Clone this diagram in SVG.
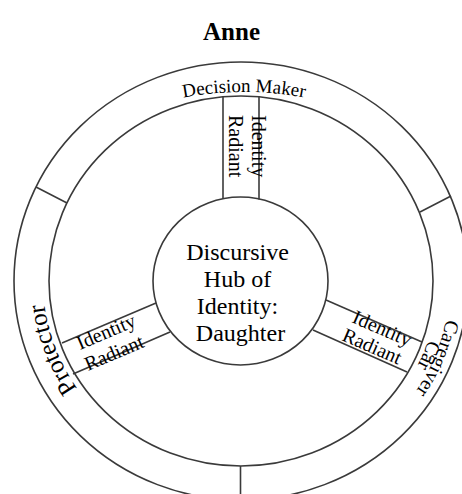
<svg xmlns="http://www.w3.org/2000/svg" width="462" height="494" viewBox="0 0 462 494">
  <style>
    .ln { fill: none; stroke: #3a3a3a; stroke-width: 1.6; }
    .tx { font-family: "Liberation Serif", "Times New Roman", serif; fill: #000; }
    .title { font-size: 25px; font-weight: bold; }
    .ring { font-size: 19px; }
    .rad { font-size: 20px; }
    .hub { font-size: 24px; }
  </style>
  <defs>
    <!-- baselines for the curved ring labels -->
    <path id="arc-top" d="M144,107.5 A330,330 0 0 1 344,107.5"/>
    <path id="arc-left" d="M113.7,427.3 A198,191 0 0 1 45.4,251.1"/>
    <path id="arc-right-outer" d="M446.2,319.4 A209,201 0 0 1 345.5,455.1"/>
    <path id="arc-right-inner" d="M428.4,339.7 A197,190 0 0 1 339.5,445.5"/>
  </defs>

  <rect width="462" height="494" fill="#fff"/>

  <g id="title">
    <text class="tx title" x="231.5" y="40" text-anchor="middle">Anne</text>
  </g>

  <!-- outer ring split into three roles -->
  <g id="ring">
    <ellipse class="ln" cx="241" cy="281" rx="227" ry="219"/>
    <ellipse class="ln" cx="241" cy="281" rx="192" ry="185"/>
    <line class="ln" x1="36" y1="187" x2="67" y2="203"/>
    <line class="ln" x1="451" y1="196" x2="420" y2="212"/>
    <line class="ln" x1="240.5" y1="466" x2="240.5" y2="500"/>
  </g>

  <g id="decision-maker">
    <text class="tx ring"><textPath href="#arc-top" startOffset="50%" text-anchor="middle">Decision Maker</textPath></text>
  </g>

  <g id="protector">
    <text class="tx" font-size="25"><textPath href="#arc-left" startOffset="50%" text-anchor="middle">Protector</textPath></text>
  </g>

  <g id="caregiver">
    <text class="tx rad"><textPath href="#arc-right-outer">Caregiver</textPath></text>
    <text class="tx rad"><textPath href="#arc-right-inner">Car</textPath></text>
  </g>

  <!-- central hub -->
  <g id="hub">
    <ellipse class="ln" cx="240.5" cy="281" rx="87.5" ry="84"/>
    <text class="tx hub" text-anchor="middle">
      <tspan x="240.5" y="260">Discursive</tspan>
      <tspan x="240.5" y="287">Hub of</tspan>
      <tspan x="240.5" y="314">Identity:</tspan>
      <tspan x="240.5" y="341">Daughter</tspan>
    </text>
  </g>

  <!-- radiant channels from hub to ring -->
  <g id="connectors">
    <line class="ln" x1="223" y1="198.7" x2="223" y2="96.8"/>
    <line class="ln" x1="259" y1="199.5" x2="259" y2="96.6"/>
    <line class="ln" x1="62" y1="343" x2="156" y2="303"/>
    <line class="ln" x1="73" y1="374" x2="170" y2="332"/>
    <line class="ln" x1="326" y1="300" x2="422" y2="342"/>
    <line class="ln" x1="313" y1="330" x2="407" y2="372"/>
  </g>

  <g id="radiant-top">
    <text class="tx rad" transform="translate(252,115) rotate(90)">Identity</text>
    <text class="tx rad" transform="translate(229,115) rotate(90)">Radiant</text>
  </g>

  <g id="radiant-left">
    <text class="tx rad" transform="translate(80,350) rotate(-23)">Identity</text>
    <text class="tx rad" transform="translate(88,371) rotate(-23)">Radiant</text>
  </g>

  <g id="radiant-right">
    <text class="tx rad" transform="translate(351,322) rotate(23.5)">Identity</text>
    <text class="tx rad" transform="translate(341,340) rotate(23.5)">Radiant</text>
  </g>
</svg>
